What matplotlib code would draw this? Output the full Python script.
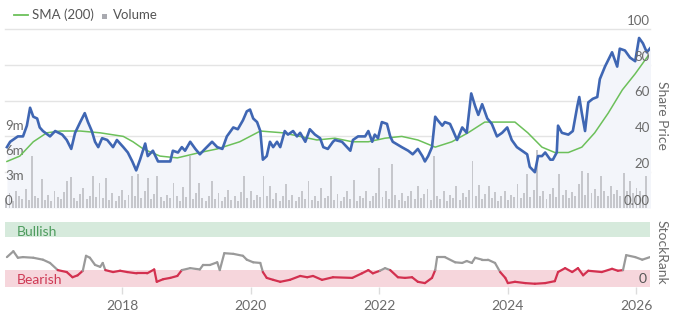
import numpy as np
import matplotlib
matplotlib.use("Agg")
import matplotlib.pyplot as plt
from matplotlib.collections import LineCollection
import matplotlib.transforms as mtransforms

plt.rcParams['font.family'] = ['Lato', 'DejaVu Sans']

# ---------------- data ----------------
price_years = [2016.21, 2016.26, 2016.38, 2016.46, 2016.52, 2016.57, 2016.62, 2016.68, 2016.72, 2016.77,
               2016.88, 2016.96, 2017.07, 2017.14, 2017.21, 2017.27, 2017.35, 2017.42, 2017.47, 2017.53,
               2017.58, 2017.63, 2017.69, 2017.77, 2017.86, 2017.92, 2018.02, 2018.09, 2018.16, 2018.22,
               2018.28, 2018.36, 2018.40, 2018.48, 2018.56, 2018.64, 2018.75, 2018.79, 2018.87, 2018.93,
               2018.98, 2019.06, 2019.14, 2019.21, 2019.29, 2019.40, 2019.48, 2019.56, 2019.63, 2019.73,
               2019.80, 2019.88, 2019.94, 2019.99, 2020.04, 2020.10, 2020.15, 2020.19, 2020.25, 2020.30,
               2020.35, 2020.41, 2020.46, 2020.53, 2020.58, 2020.66, 2020.72, 2020.77, 2020.85, 2020.92,
               2021.00, 2021.08, 2021.13, 2021.20, 2021.28,
               2021.31, 2021.42, 2021.55, 2021.59, 2021.67, 2021.78, 2021.83, 2021.89, 2021.93, 2021.98,
               2022.04, 2022.12, 2022.17, 2022.21, 2022.35, 2022.45, 2022.52, 2022.60, 2022.67, 2022.71,
               2022.76, 2022.82, 2022.87, 2022.91, 2022.98, 2023.02, 2023.10, 2023.15, 2023.21, 2023.29,
               2023.36, 2023.43, 2023.49, 2023.54, 2023.60, 2023.68, 2023.75, 2023.83, 2023.91, 2023.99,
               2024.06, 2024.14, 2024.22, 2024.30, 2024.34, 2024.42, 2024.47, 2024.53, 2024.58, 2024.66,
               2024.70, 2024.76, 2024.78, 2024.84, 2024.94, 2025.01, 2025.08, 2025.11, 2025.15, 2025.20,
               2025.25, 2025.32, 2025.39, 2025.43, 2025.51, 2025.62, 2025.70, 2025.74, 2025.82, 2025.90,
               2025.98, 2026.04, 2026.10, 2026.16, 2026.23]
price_values = [34, 37, 40, 40, 46, 56, 51, 50, 45, 43,
                40, 43, 41, 38, 33, 42, 48, 53, 48, 43,
                37, 34, 39, 38, 34, 38, 34, 31, 26, 21,
                27, 36, 29, 32, 26, 26, 26, 32, 31, 34,
                32, 37, 33, 30, 33, 37, 34, 33, 40, 45,
                44, 49, 54, 55, 50, 48, 43, 27, 29, 37,
                34, 37, 34, 43, 41, 43, 40, 42, 37, 44,
                41, 39, 34, 33, 37,
                38, 37, 32, 38, 40, 40, 43, 37, 41, 39,
                48, 47, 40, 37, 34, 32, 30, 33, 29, 26,
                29, 34, 51, 49, 46, 48, 47, 43, 38, 45,
                42, 64, 57, 52, 58, 50, 47, 40, 42, 45,
                38, 34, 32, 30, 23, 20, 29, 29, 31, 27,
                27, 31, 46, 42, 41, 43, 57, 62, 53, 43,
                59, 61, 62, 72, 79, 87, 79, 89, 88, 84,
                82, 95, 92, 87, 90]

sma_years = [2016.21, 2016.41, 2016.62, 2016.83, 2017.04, 2017.35, 2017.66, 2018.02, 2018.17, 2018.33,
             2018.59, 2018.86, 2019.21, 2019.48, 2019.83, 2020.15, 2020.50, 2021.03, 2021.31, 2021.58,
             2021.83, 2022.09, 2022.35, 2022.60, 2022.87, 2023.13, 2023.38, 2023.64, 2024.11, 2024.31,
             2024.53, 2024.73, 2024.94, 2025.15, 2025.35, 2025.56, 2025.78, 2025.98, 2026.18]
sma_values = [26, 29, 37, 42, 43, 43, 42, 40, 37, 33,
              29, 28, 31, 33, 37, 43, 42, 38, 39, 37,
              37, 39, 40, 38, 34, 37, 42, 48, 48, 42,
              34, 31, 31, 34, 42, 53, 66, 75, 85]

# volume in millions, one bar every 0.05 year from 2016.20
volume_start = 2016.20
volume_step = 0.05
volume_m = [1.2, 1.8, 0.9, 2.0, 1.4, 1.1, 2.3, 1.0, 6.3, 1.5, 1.2, 3.5, 1.0, 1.6, 0.8, 2.1, 1.3, 1.1, 1.9, 3.2,
            3.7, 1.2, 0.9, 1.7, 2.4, 1.1, 1.5, 3.8, 1.3, 3.0, 1.2, 3.6, 1.0, 1.8, 0.8, 1.4, 2.2, 1.0, 1.6, 3.8,
            1.5, 4.1, 1.2, 2.0, 3.6, 1.1, 1.7, 3.8, 1.3, 0.9, 1.6, 1.2, 3.0, 1.4, 0.8, 2.5, 1.3, 6.2, 1.1, 1.8,
            3.0, 1.2, 0.9, 1.5, 3.2, 1.1, 1.8, 0.8, 1.3, 2.2, 1.0, 1.5, 0.9, 1.9, 3.8, 1.2, 2.1, 1.0, 1.6, 1.3,
            3.8, 1.5, 2.6, 1.1, 1.8, 0.9, 1.4, 2.9, 1.0, 1.6, 0.8, 1.3, 2.0, 1.1, 3.2, 1.0, 1.5, 0.9, 2.4, 1.2,
            1.4, 3.8, 1.0, 1.7, 0.8, 1.3, 2.0, 1.1, 3.4, 0.9, 1.5, 1.2, 2.1, 0.9, 1.4, 1.8, 4.8, 1.3, 2.0, 1.1,
            5.3, 1.6, 1.0, 1.8, 0.9, 1.4, 2.0, 1.1, 2.6, 1.2, 1.7, 2.3, 1.0, 6.2, 1.5, 1.1, 2.0, 0.9, 1.6, 1.2,
            2.6, 1.0, 1.8, 1.3, 2.2, 5.6, 1.4, 2.8, 1.1, 1.7, 2.6, 1.2, 1.9, 0.9, 1.5, 2.1, 1.0, 1.6, 1.3, 2.9,
            1.2, 1.8, 4.1, 1.3, 2.2, 7.0, 1.5, 2.0, 1.1, 1.7, 2.4, 1.3, 4.1, 1.6, 2.2, 1.2, 1.9, 1.4, 2.9, 4.4,
            1.6, 4.2, 1.8, 2.3, 1.4, 3.9, 2.0, 1.5, 2.6, 1.7, 2.2, 1.5, 4.2, 2.0, 3.2, 1.8, 2.4, 2.1, 1.6, 3.9]

rank_years = [2016.21, 2016.31, 2016.38, 2016.46, 2016.62, 2016.77, 2016.88, 2017.00, 2017.14, 2017.23,
              2017.31, 2017.39, 2017.44, 2017.50, 2017.58, 2017.66, 2017.70, 2017.74, 2017.86, 2017.97,
              2018.08, 2018.23, 2018.39, 2018.50, 2018.54, 2018.64, 2018.75, 2018.86, 2018.93, 2019.06,
              2019.21, 2019.26, 2019.37, 2019.48, 2019.52, 2019.59, 2019.73, 2019.88, 2019.94, 2020.04,
              2020.15, 2020.19, 2020.25, 2020.35, 2020.46, 2020.61, 2020.77, 2020.88, 2020.97, 2021.11,
              2021.28, 2021.58, 2021.73, 2021.83, 2021.90, 2022.01, 2022.09, 2022.17, 2022.29, 2022.40,
              2022.51, 2022.60, 2022.71, 2022.82, 2022.87, 2022.90, 2023.02, 2023.18, 2023.29, 2023.36,
              2023.44, 2023.49, 2023.60, 2023.69, 2023.80, 2023.88, 2023.96, 2024.00, 2024.11, 2024.27,
              2024.42, 2024.58, 2024.73, 2024.78, 2024.89, 2025.00, 2025.09, 2025.17, 2025.25, 2025.46,
              2025.62, 2025.71, 2025.79, 2025.84, 2025.98, 2026.09, 2026.21]
rank_values = [46, 55, 45, 46, 45, 42, 37, 26, 23, 15,
               18, 25, 48, 45, 34, 31, 37, 26, 23, 25,
               23, 21, 21, 27, 8, 12, 14, 17, 26, 29,
               27, 34, 34, 38, 26, 52, 51, 48, 42, 38,
               37, 23, 14, 11, 8, 11, 17, 15, 17, 11,
               15, 14, 21, 26, 21, 25, 29, 26, 15, 14,
               15, 8, 6, 14, 26, 46, 46, 38, 37, 40,
               37, 45, 42, 42, 37, 23, 14, 6, 8, 6,
               5, 6, 9, 23, 29, 23, 29, 18, 25, 23,
               28, 25, 26, 49, 46, 42, 46]

price_ticks = [20, 40, 60, 80, 100]
volume_ticks = [0, 3, 6, 9]
volume_tick_labels = ['0', '3m', '6m', '9m']
year_ticks = [2018, 2020, 2022, 2024, 2026]

# ---------------- style ----------------
BLUE = '#3f66b3'
GREEN = '#6cc05a'
VOLGRAY = '#c6c7cc'
FILL = '#f3f5fa'
GRID = '#e4e4e4'
TXT = '#6b6b6b'
RED = '#d3304f'
RGRAY = '#9a9a9a'

XMIN, XMAX = 2016.18, 2026.21
TOP_RECT = [5 / 675, 1 - 208 / 310, 645 / 675, 179 / 310]

fig = plt.figure(figsize=(6.75, 3.10), dpi=100)


def bare(a):
    for s in a.spines.values():
        s.set_visible(False)
    a.set_xticks([])
    a.set_yticks([])
    a.patch.set_visible(False)


# layer 1: gridlines + fill (price scale)
ax_bg = fig.add_axes(TOP_RECT, label='bg')
ax_bg.set_xlim(XMIN, XMAX)
ax_bg.set_ylim(0, 100)
bare(ax_bg)
for t in price_ticks:
    ax_bg.axhline(t, color=GRID, lw=1.0, zorder=0, clip_on=False)
ax_bg.fill_between(price_years, price_values, 0, color=FILL, lw=0, zorder=1)

# layer 2: volume
axv = fig.add_axes(TOP_RECT, label='vol')
axv.set_xlim(XMIN, XMAX)
axv.set_ylim(0, 179 / 25 * 3)
bare(axv)
vx = [volume_start + volume_step * i for i in range(len(volume_m))]
axv.bar(vx, volume_m, width=0.03, color=VOLGRAY, lw=0, zorder=2)

# layer 3: lines and labels (price scale)
ax = fig.add_axes(TOP_RECT, label='lines')
ax.set_xlim(XMIN, XMAX)
ax.set_ylim(0, 100)
bare(ax)
ax.plot(sma_years, sma_values, color=GREEN, lw=1.1, zorder=3)
ax.plot(price_years, price_values, color=BLUE, lw=1.9, zorder=4, solid_joinstyle='round')

trans_r = mtransforms.blended_transform_factory(ax.transAxes, ax.transData)
for t in price_ticks:
    ax.text(1.0, t + 1.2, str(t), transform=trans_r, ha='right', va='bottom',
            fontsize=9.5, color=TXT, zorder=6)
ax.text(1.0, 0.8, '0.00', transform=trans_r, ha='right', va='bottom',
        fontsize=9.5, color=TXT, zorder=6)

trans_l = mtransforms.blended_transform_factory(axv.transAxes, axv.transData)
for v, lab in zip(volume_ticks, volume_tick_labels):
    axv.text(0.0, v + 0.15, lab, transform=trans_l, ha='left', va='bottom',
             fontsize=9.5, color=TXT, zorder=6)

fig.text(662 / 675, 1 - 115 / 310, 'Share Price', rotation=270, ha='center', va='center',
         fontsize=10, color=TXT)

# legend
fig.lines.append(plt.Line2D([14 / 675, 28 / 675], [1 - 15 / 310] * 2, transform=fig.transFigure,
                            color=GREEN, lw=1.3))
fig.text(32 / 675, 1 - 15 / 310, 'SMA (200)', ha='left', va='center', fontsize=9.5, color='#555555')
fig.patches.append(plt.Rectangle((102 / 675, 1 - 19 / 310), 5 / 675, 5 / 310,
                                 transform=fig.transFigure, color='#a9aab0', lw=0))
fig.text(113 / 675, 1 - 15 / 310, 'Volume', ha='left', va='center', fontsize=9.5, color='#555555')

# bottom panel
axb = fig.add_axes([5 / 675, 1 - 287 / 310, 645 / 675, 65 / 310])
axb.set_xlim(XMIN, XMAX)
axb.set_ylim(0, 100)
for s in axb.spines.values():
    s.set_visible(False)
axb.axhspan(77, 100, color='#d6eadc', lw=0, zorder=0)
axb.axhspan(0, 26, color='#f6d6dc', lw=0, zorder=0)
tb = mtransforms.blended_transform_factory(axb.transAxes, axb.transData)
axb.text(0.018, 84, 'Bullish', transform=tb, ha='left', va='center', fontsize=10, color='#4e9c5e')
axb.text(0.018, 11, 'Bearish', transform=tb, ha='left', va='center', fontsize=10, color='#cf3a55')

pts = np.column_stack([rank_years, rank_values])
segs = np.stack([pts[:-1], pts[1:]], axis=1)
mid = (np.array(rank_values[:-1]) + np.array(rank_values[1:])) / 2.0
cols = [RED if m < 27 else RGRAY for m in mid]
axb.add_collection(LineCollection(segs, colors=cols, linewidths=1.6, zorder=3, capstyle='round',
                                  joinstyle='round'))

axb.text(0.995, 12, '0', transform=tb, ha='right', va='center', fontsize=10, color='#555555')

axb.set_yticks([])
axb.set_xticks(year_ticks)
axb.set_xticklabels([str(y) for y in year_ticks])
axb.tick_params(axis='x', length=5, width=1, color='#dcdcdc', pad=4, labelsize=10, labelcolor=TXT)
axb.patch.set_alpha(0)

fig.text(662 / 675, 1 - 252 / 310, 'StockRank', rotation=270, ha='center', va='center',
         fontsize=10, color=TXT)

fig.savefig('out.png', dpi=100)
